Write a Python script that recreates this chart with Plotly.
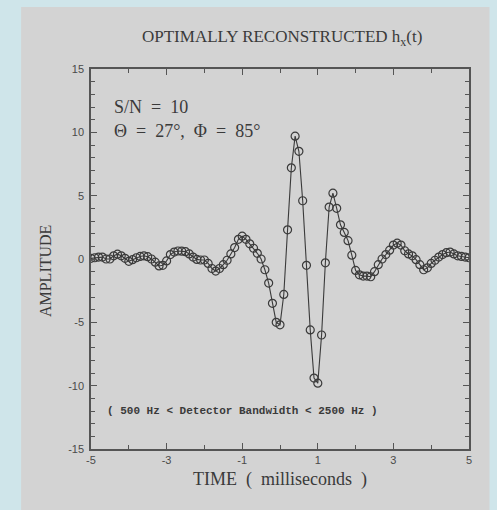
import plotly.graph_objects as go

# ---- data ----
time_ms = [round(-5.0 + 0.1 * i, 1) for i in range(101)]
amplitude = [
    0.05, 0.1, 0.15, 0.15, 0.0, 0.0, 0.25, 0.38, 0.25, 0.05,      # -5.0 .. -4.1
    -0.18, -0.05, 0.1, 0.2, 0.25, 0.18, 0.0, -0.25, -0.55, -0.5,  # -4.0 .. -3.1
    -0.15, 0.35, 0.55, 0.63, 0.62, 0.58, 0.4, 0.15, -0.03, -0.08,  # -3.0 .. -2.1
    -0.08, -0.35, -0.75, -0.95, -0.75, -0.45, -0.1, 0.4, 0.9, 1.55,  # -2.0 .. -1.1
    1.8, 1.55, 1.2, 0.85, 0.45, 0.0, -0.85, -1.9, -3.5, -5.0,      # -1.0 .. -0.1
    -5.2, -2.8, 2.3, 7.2, 9.7, 8.5, 4.6, -0.5, -5.6, -9.4,         # 0.0 .. 0.9
    -9.8, -6.0, -0.3, 4.1, 5.2, 4.0, 2.7, 2.1, 1.45, 0.3,          # 1.0 .. 1.9
    -0.9, -1.25, -1.35, -1.35, -1.4, -1.0, -0.45, 0.0, 0.35, 0.7,  # 2.0 .. 2.9
    1.1, 1.25, 1.1, 0.65, 0.4, 0.25, -0.05, -0.45, -0.85, -0.7,    # 3.0 .. 3.9
    -0.35, -0.1, 0.15, 0.35, 0.5, 0.55, 0.4, 0.25, 0.2, 0.15,      # 4.0 .. 4.9
    0.1,                                                          # 5.0
]
x_tick_vals = [-5, -3, -1, 1, 3, 5]
y_tick_vals = [-15, -10, -5, 0, 5, 10, 15]

title_text = "OPTIMALLY RECONSTRUCTED h<sub>x</sub>(t)"
sn_text = "S/N  =  10"
angle_text = "\u0398  =  27\u00b0,  \u03a6  =  85\u00b0"
band_text = "<b>( 500 Hz &lt; Detector Bandwidth &lt; 2500 Hz )</b>"
x_title = "TIME  (  milliseconds  )"
y_title = "AMPLITUDE"

# ---- styling ----
W, H = 497, 510
L, R, T, B = 91, 469.5, 69, 449
outer_bg = "#cfe5ea"
panel_bg = "#d3d3d3"
ink = "#3a3a3a"
serif = "Liberation Serif, DejaVu Serif, serif"

def px_to_xp(px):
    return (px - L) / (R - L)

def py_to_yp(py):
    return (B - py) / (B - T)

fig = go.Figure()
fig.add_trace(go.Scatter(
    x=time_ms, y=amplitude, mode="lines+markers",
    line=dict(color=ink, width=1.1),
    marker=dict(symbol="circle-open", size=8, color=ink, line=dict(width=1.2)),
    hoverinfo="skip", showlegend=False,
))

axis_common = dict(
    showgrid=False, zeroline=False, showline=True, linecolor="#555555", linewidth=1.5,
    mirror="ticks", ticks="inside", ticklen=6, tickwidth=1.2, tickcolor="#555555",
    tickfont=dict(family="Liberation Sans, Arial, sans-serif", size=11, color="#4a4a4a"),
)

fig.update_xaxes(
    range=[-5, 5], tickmode="array", tickvals=x_tick_vals,
    ticktext=[str(v) for v in x_tick_vals],
    minor=dict(dtick=1, tick0=0, ticks="inside", ticklen=4, tickcolor="#555555", showgrid=False),
    **axis_common,
)
fig.update_yaxes(
    range=[-15, 15], tickmode="array", tickvals=y_tick_vals,
    ticktext=[str(v) for v in y_tick_vals], ticklabelstandoff=3,
    minor=dict(dtick=1, tick0=0, ticks="inside", ticklen=4, tickcolor="#555555", showgrid=False),
    **axis_common,
)

shapes = [dict(
    type="rect", xref="paper", yref="paper", layer="below",
    x0=px_to_xp(21), x1=px_to_xp(490), y0=py_to_yp(512), y1=py_to_yp(7),
    fillcolor=panel_bg, line=dict(width=0),
)]

annotations = [
    dict(text=title_text, x=px_to_xp(282), y=py_to_yp(38), xref="paper", yref="paper",
         showarrow=False, xanchor="center", yanchor="middle",
         font=dict(family=serif, size=17, color=ink)),
    dict(text=sn_text, x=px_to_xp(112), y=py_to_yp(107), xref="paper", yref="paper",
         showarrow=False, xanchor="left", yanchor="middle",
         font=dict(family=serif, size=18, color=ink)),
    dict(text=angle_text, x=px_to_xp(112), y=py_to_yp(131), xref="paper", yref="paper",
         showarrow=False, xanchor="left", yanchor="middle",
         font=dict(family=serif, size=18, color=ink)),
    dict(text=band_text, x=px_to_xp(243), y=py_to_yp(411), xref="paper", yref="paper",
         showarrow=False, xanchor="center", yanchor="middle",
         font=dict(family="Liberation Mono, Courier New, monospace", size=11, color=ink)),
    dict(text=y_title, x=px_to_xp(45), y=py_to_yp(271), xref="paper", yref="paper",
         showarrow=False, textangle=-90, xanchor="center", yanchor="middle",
         font=dict(family=serif, size=16, color=ink)),
    dict(text=x_title, x=px_to_xp(280), y=py_to_yp(480), xref="paper", yref="paper",
         showarrow=False, xanchor="center", yanchor="middle",
         font=dict(family=serif, size=18, color=ink)),
]

fig.update_layout(
    width=W, height=H,
    margin=dict(l=L, r=W - R, t=T, b=H - B, pad=0),
    paper_bgcolor=outer_bg, plot_bgcolor=panel_bg,
    shapes=shapes, annotations=annotations,
)

fig.write_html(
    "out.html",
    config={"displayModeBar": False},
    post_script=(
        "document.body.style.margin='0';"
        "document.body.style.padding='0';"
        "document.body.style.overflow='hidden';"
        "document.body.style.background='" + outer_bg + "';"
    ),
)
